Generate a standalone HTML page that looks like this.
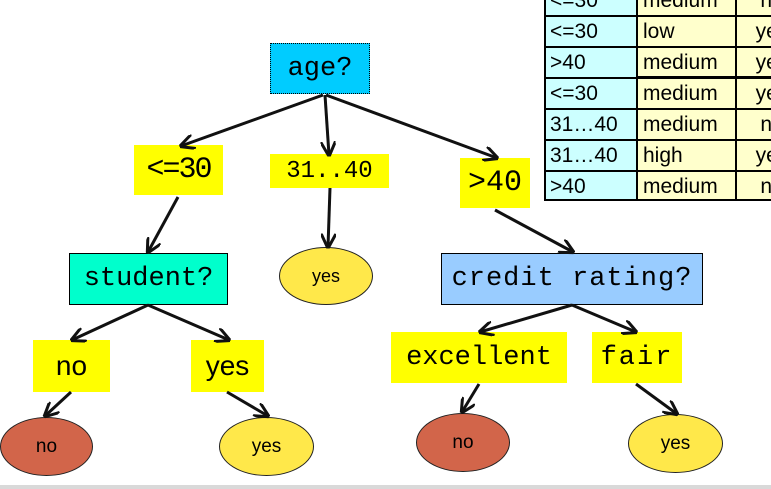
<!DOCTYPE html>
<html><head><meta charset="utf-8"><style>
body{margin:0;width:771px;height:489px;overflow:hidden;background:#fff;position:relative;font-family:"Liberation Sans",sans-serif}
.b{position:absolute;display:flex;align-items:center;justify-content:center;box-sizing:border-box;font-family:"Liberation Mono","DejaVu Sans Mono",monospace;color:#000}
.y{background:#ffff00}
.e{position:absolute;border:1.5px solid #222;border-radius:50%;box-sizing:border-box;display:flex;align-items:center;justify-content:center;font-family:"Liberation Sans",sans-serif;font-size:19px}
.ye{background:#ffe84a}.no{background:#d2654a}
.t{position:absolute;left:544px;top:-16px;width:240px;height:217px;border:2px solid #000;box-sizing:border-box;background:#ffffcc;overflow:hidden}
.r{position:absolute;left:0;width:240px;height:31px;border-bottom:2px solid #000;box-sizing:border-box;font-size:21px}
.r div{position:absolute;top:0;height:29px;line-height:29px;box-sizing:border-box}
.c1{left:0;width:92px;background:#ccffff;border-right:2px solid #000;padding-left:4px}
.c2{left:92px;width:99px;border-right:2px solid #000;padding-left:5px}
.c3{left:191px;width:70px;text-align:center}
</style></head><body>
<div class="t">
<div class="r" style="top:0"><div class="c1">&lt;=30</div><div class="c2">medium</div><div class="c3">no</div></div>
<div class="r" style="top:31px"><div class="c1">&lt;=30</div><div class="c2">low</div><div class="c3">yes</div></div>
<div class="r" style="top:62px;border-bottom-width:3px"><div class="c1">&gt;40</div><div class="c2">medium</div><div class="c3">yes</div></div>
<div class="r" style="top:93px"><div class="c1">&lt;=30</div><div class="c2">medium</div><div class="c3">yes</div></div>
<div class="r" style="top:124px"><div class="c1">31…40</div><div class="c2">medium</div><div class="c3">no</div></div>
<div class="r" style="top:155px"><div class="c1">31…40</div><div class="c2">high</div><div class="c3">yes</div></div>
<div class="r" style="top:186px;border-bottom:none"><div class="c1">&gt;40</div><div class="c2">medium</div><div class="c3">no</div></div>
</div>
<div class="b" style="left:270px;top:43px;width:100px;height:51px;background:#00ccff;border:1px dotted #000;font-size:27px">age?</div>
<div class="b y" style="left:134px;top:145px;width:89px;height:50px;font-size:30px;letter-spacing:-2px">&lt;=30</div>
<div class="b y" style="left:270px;top:154px;width:119px;height:34px;font-size:24px">31..40</div>
<div class="b y" style="left:460px;top:158px;width:70px;height:50px;font-size:30px">&gt;40</div>
<div class="b" style="left:69px;top:253px;width:159px;height:52px;background:#00ffcc;border:1px solid #000;font-size:27px">student?</div>
<div class="b" style="left:441px;top:253px;width:262px;height:52px;background:#99ccff;border:1px solid #000;font-size:27px;letter-spacing:1px">credit rating?</div>
<div class="b y" style="left:33px;top:340px;width:77px;height:52px;font-family:'Liberation Sans',sans-serif;font-size:28px">no</div>
<div class="b y" style="left:191px;top:340px;width:73px;height:52px;font-family:'Liberation Sans',sans-serif;font-size:28px">yes</div>
<div class="b y" style="left:391px;top:332px;width:176px;height:51px;font-size:27px">excellent</div>
<div class="b y" style="left:592px;top:332px;width:90px;height:51px;font-size:27px;letter-spacing:2px">fair</div>
<div class="e ye" style="left:279px;top:247px;width:94px;height:58px;font-size:18px">yes</div>
<div class="e no" style="left:0px;top:417px;width:93px;height:59px">no</div>
<div class="e ye" style="left:219px;top:417px;width:95px;height:59px">yes</div>
<div class="e no" style="left:416px;top:413px;width:94px;height:59px">no</div>
<div class="e ye" style="left:628px;top:414px;width:95px;height:59px">yes</div>
<svg width="771" height="489" style="position:absolute;left:0;top:0">
<defs><marker id="a" viewBox="0 0 10 10" refX="9" refY="5" markerWidth="5" markerHeight="5" orient="auto"><path d="M0,0 L10,5 L0,10" fill="none" stroke="#111" stroke-width="2"/></marker></defs>
<g stroke="#111" stroke-width="3" marker-end="url(#a)">
<line x1="323" y1="95" x2="181" y2="146"/>
<line x1="325" y1="95" x2="329" y2="155"/>
<line x1="326" y1="95" x2="497" y2="158"/>
<line x1="178" y1="197" x2="148" y2="252"/>
<line x1="330" y1="188" x2="328" y2="247"/>
<line x1="495" y1="210" x2="573" y2="252"/>
<line x1="148" y1="305" x2="72" y2="340"/>
<line x1="148" y1="305" x2="229" y2="340"/>
<line x1="71" y1="392" x2="45" y2="416"/>
<line x1="227" y1="392" x2="268" y2="416"/>
<line x1="572" y1="305" x2="480" y2="332"/>
<line x1="572" y1="305" x2="636" y2="332"/>
<line x1="479" y1="384" x2="462" y2="412"/>
<line x1="636" y1="384" x2="677" y2="414"/>
</g></svg>
<div style="position:absolute;left:0;top:485px;width:771px;height:4px;background:#d9d9d9"></div>
</body></html>
